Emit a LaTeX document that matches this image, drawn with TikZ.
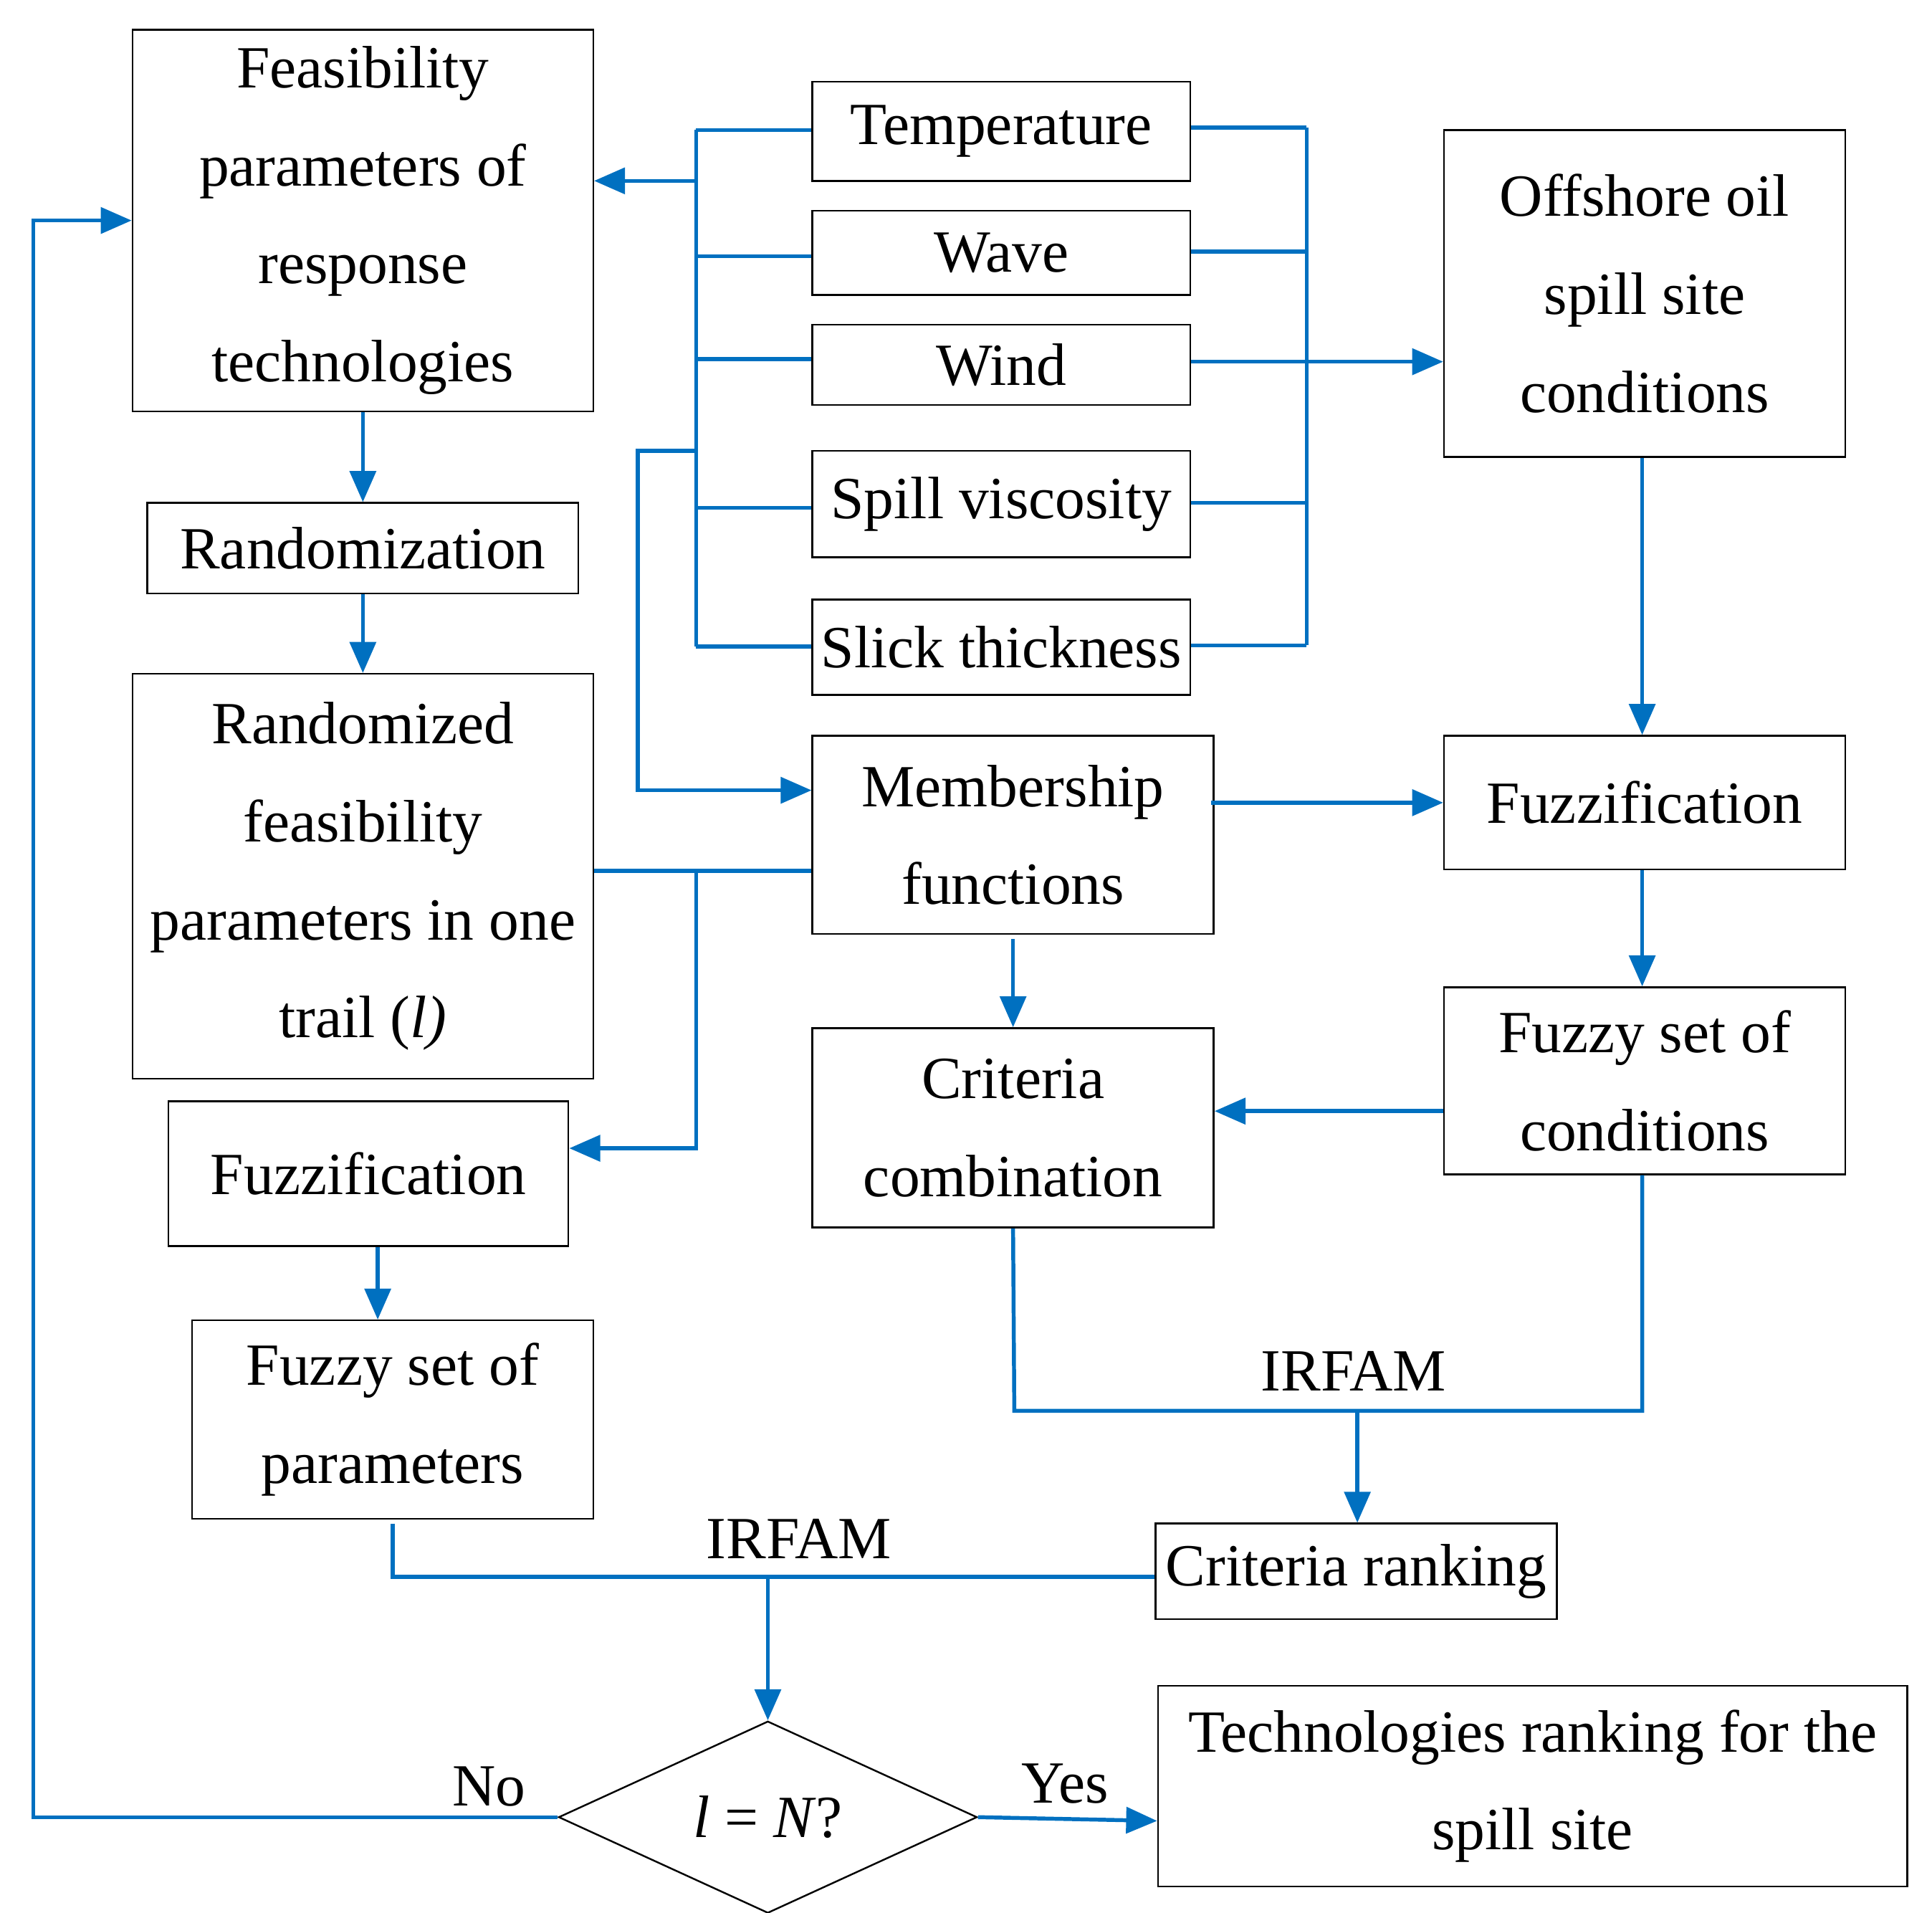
\documentclass[tikz,border=0pt]{standalone}
\usepackage{fontspec}
\setmainfont{Liberation Serif}
\usetikzlibrary{arrows.meta,shapes.geometric}
\definecolor{ln}{RGB}{0,112,192}
\begin{document}
\begin{tikzpicture}[x=0.02cm,y=-0.02cm,
  box/.style={draw=black,line width=0.8pt,inner sep=0pt,align=center,font=\fontsize{27.5}{45}\selectfont},
  wire/.style={draw=ln,line width=1.8pt},
  arr/.style={wire,-{Triangle[length=0.5cm,width=0.42cm]}},
  lab/.style={font=\fontsize{27.5}{33}\selectfont}]
\useasboundingbox (0,0) rectangle (1560,1544);
\newcommand\bx[6]{\node[box,minimum width={(#4-#2)*0.02cm},minimum height={(#5-#3)*0.02cm}] (#1) at ({(#2+#4)/2},{(#3+#5)/2}) {#6};}
\bx{feas}{107}{24}{479}{332}{Feasibility\\parameters of\\response\\technologies}
\bx{rand}{119}{406}{467}{479}{Randomization}
\bx{rfp}{107}{544}{479}{871}{Randomized\\feasibility\\parameters in one\\trail (\textit{l)}}
\bx{fzl}{136}{889}{459}{1006}{Fuzzification}
\bx{fsp}{155}{1066}{479}{1226}{Fuzzy set of\\parameters}
\bx{temp}{656}{66}{961}{146}{Temperature}
\bx{wave}{656}{170}{961}{238}{Wave}
\bx{wind}{656}{262}{961}{327}{Wind}
\bx{visc}{656}{364}{961}{450}{Spill viscosity}
\bx{slick}{656}{484}{961}{561}{Slick thickness}
\bx{memb}{656}{594}{980}{754}{Membership\\functions}
\bx{crit}{656}{830}{980}{991}{Criteria\\combination}
\bx{off}{1166}{105}{1490}{369}{Offshore oil\\spill site\\conditions}
\bx{fzr}{1166}{594}{1490}{702}{Fuzzification}
\bx{fsc}{1166}{797}{1490}{948}{Fuzzy set of\\conditions}
\bx{crank}{933}{1230}{1257}{1307}{Criteria ranking}
\bx{tech}{935}{1361}{1540}{1523}{Technologies ranking for the\\spill site}
\node[diamond,draw=black,line width=0.8pt,inner sep=0pt,minimum width=6.76cm,minimum height=2.76cm,font=\fontsize{27.5}{33}\selectfont] (dia) at (620,1467) {\textit{l} = \textit{N}?};
% left bus
\draw[wire] (562,105) -- (562,522);
\foreach \n/\y in {temp/105,wave/207,wind/290,visc/410,slick/522}
  \draw[wire] (562,\y) -- (\n.west |- 0,\y);
\draw[arr] (562,146) -- (feas.east |- 0,146);
\draw[arr] (562,364) -- (515,364) -- (515,638) -- (memb.west |- 0,638);
% right bus
\draw[wire] (1055,103) -- (1055,521);
\foreach \n/\y in {temp/103,wave/203,visc/406,slick/521}
  \draw[wire] (\n.east |- 0,\y) -- (1055,\y);
\draw[arr] (wind.east |- 0,292) -- (off.west |- 0,292);
% left column
\draw[arr] (feas.south) -- (rand.north);
\draw[arr] (rand.south) -- (rfp.north);
\draw[wire] (rfp.east |- 0,703) -- (memb.west |- 0,703);
\draw[arr] (562,703) -- (562,927) -- (fzl.east |- 0,927);
\draw[arr] (fzl.south -| 305,0) -- (fsp.north -| 305,0);
\draw[wire] (317,1230) -- (317,1273) -- (crank.west |- 0,1273);
\node[lab] (irf1) at (645,1242) {IRFAM};
\draw[arr] (620,1273) -- (dia.north);
% middle/right
\draw[arr] (memb.south |- 0,758) -- (crit.north);
\draw[arr] (978,648) -- (fzr.west |- 0,648);
\draw[arr] (off.south -| 1326,0) -- (fzr.north -| 1326,0);
\draw[arr] (fzr.south -| 1326,0) -- (fsc.north -| 1326,0);
\draw[arr] (fsc.west |- 0,897) -- (crit.east |- 0,897);
\draw[wire] (crit.south) -- (819,1139) -- (1326,1139) -- (fsc.south -| 1326,0);
\node[lab] (irf2) at (1093,1107) {IRFAM};
\draw[arr] (1096,1139) -- (crank.north -| 1096,0);
% decision
\draw[arr] (dia.east) -- (tech.west |- 0,1470);
\node[lab] (yes) at (860,1440) {Yes};
\draw[arr] (dia.west) -- (27,1467) -- (27,178) -- (feas.west |- 0,178);
\node[lab] (no) at (395,1442) {No};
\end{tikzpicture}
\end{document}
